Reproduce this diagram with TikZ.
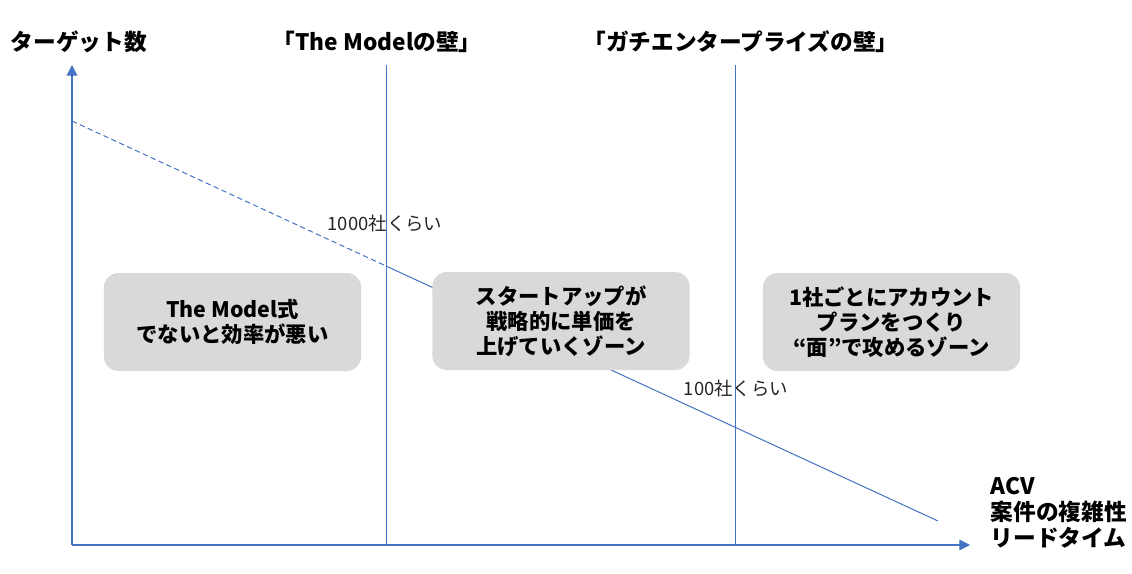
\documentclass[tikz,border=0pt]{standalone}
\usepackage{fontspec}
\setmainfont{Noto Sans CJK JP}
\usetikzlibrary{arrows.meta}

\definecolor{lineblue}{HTML}{4472C4}
\definecolor{zonegray}{HTML}{D9D9D9}

\begin{document}
\begin{tikzpicture}[x=0.75pt, y=-0.75pt,
    axis/.style={lineblue, line width=0.9pt, -{Triangle[length=8pt, width=8pt]}},
    wall/.style={lineblue, line width=0.75pt},
    trend/.style={lineblue, line width=0.75pt},
    zone/.style={fill=zonegray, rounded corners=11pt, minimum width=193pt,
        minimum height=73.5pt, align=center,
        font=\fontsize{16}{18.75}\selectfont\bfseries},
    title/.style={font=\fontsize{17}{19.5}\selectfont\bfseries},
    count/.style={font=\fontsize{13.8}{16}\selectfont, text=black!85}]

    \useasboundingbox (0,0) rectangle (1132,574);

    % 座標軸
    \coordinate (O) at (72,545);
    \coordinate (ytop) at (72,65);
    \coordinate (xend) at (970,545);
    \draw[axis] (O) -- (ytop);
    \draw[axis] (O) -- (xend);

    \node[title] (ylabel) at (79,42) {ターゲット数};
    \node[title, anchor=west, align=left] (xlabel) at (986,513)
        {ACV\\案件の複雑性\\リードタイム};

    % 壁
    \coordinate (wallA top) at (386,65);
    \coordinate (wallA bot) at (386,545);
    \coordinate (wallB top) at (735,65);
    \coordinate (wallB bot) at (735,545);
    \draw[wall] (wallA top) -- (wallA bot);
    \draw[wall] (wallB top) -- (wallB bot);

    \node[title] (wallA label) at (377,42) {「The Modelの壁」};
    \node[title] (wallB label) at (741,42) {「ガチエンタープライズの壁」};

    % ターゲット数の線
    \coordinate (t0) at (72,121);
    \coordinate (t1) at (386,266);
    \coordinate (t2) at (938,521);
    \draw[trend, dashed, dash pattern=on 4pt off 2.5pt] (t0) -- (t1);
    \draw[trend] (t1) -- (t2);

    \node[count] (n1000) at (385,224) {1000社くらい};
    \node[count] (n100) at (736,389) {100社くらい};

    % ゾーン
    \node[zone] (zone1) at (232.5,322) {The Model式\\でないと効率が悪い};
    \node[zone] (zone2) at (561,321) {スタートアップが\\戦略的に単価を\\上げていくゾーン};
    \node[zone] (zone3) at (891.5,322) {1社ごとにアカウント\\プランをつくり\\“面”で攻めるゾーン};

\end{tikzpicture}
\end{document}
